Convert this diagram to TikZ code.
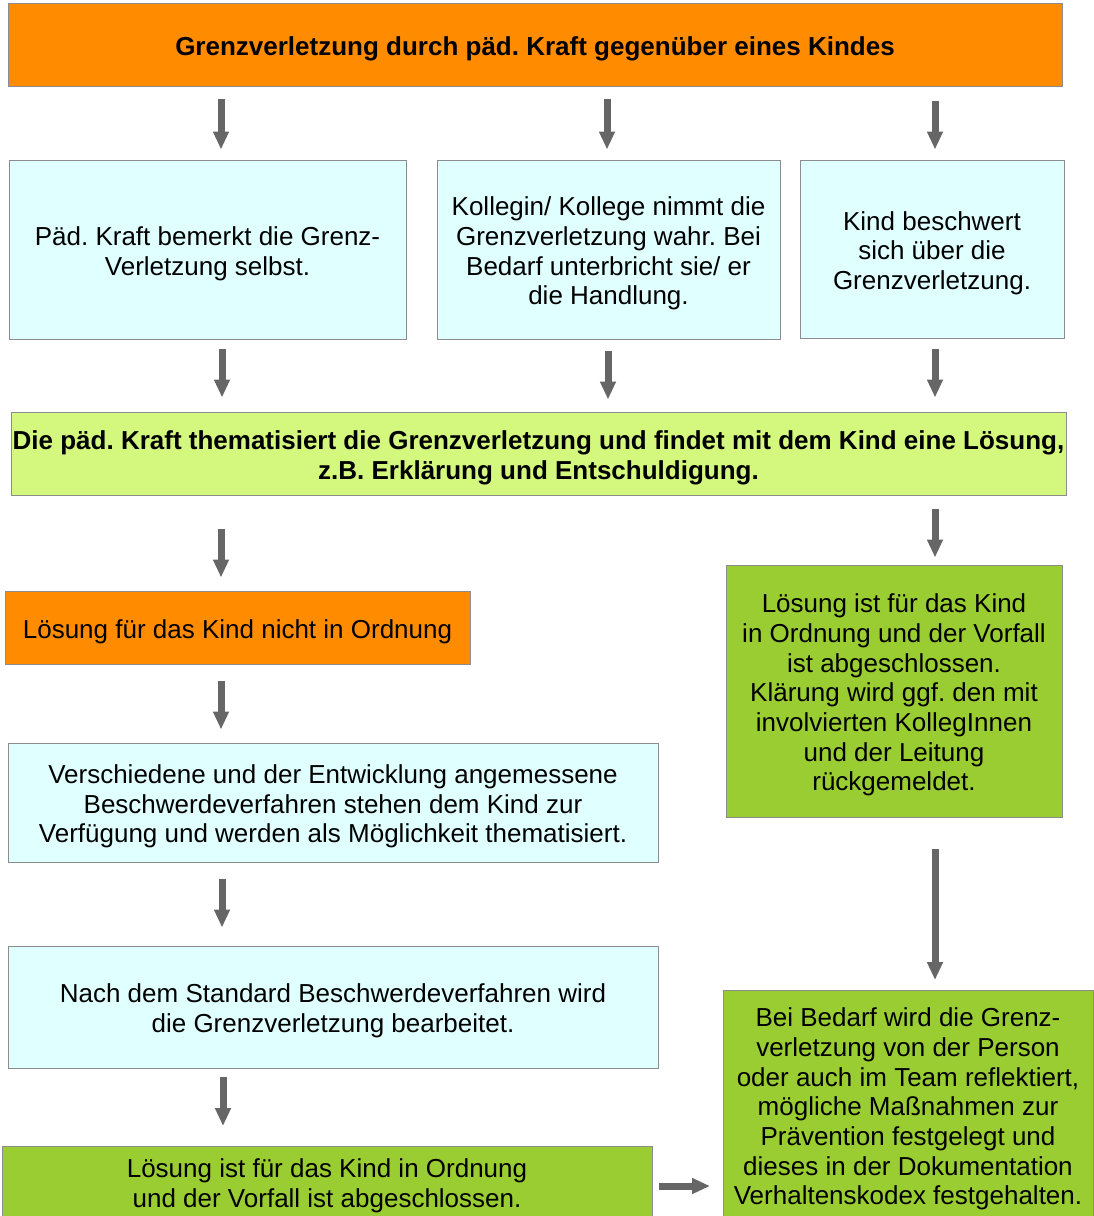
\documentclass[tikz,border=0pt]{standalone}
\usepackage{fontspec}
\setmainfont{Liberation Sans}
\usetikzlibrary{arrows.meta}
\frenchspacing
\definecolor{kitaorange}{RGB}{255, 140, 0}
\definecolor{kitacyan}{RGB}{224, 255, 255}
\definecolor{kitalime}{RGB}{212, 248, 126}
\definecolor{kitagreen}{RGB}{154, 205, 50}
\definecolor{kitaline}{RGB}{140, 140, 140}
\definecolor{kitaarrow}{RGB}{102, 102, 102}
\tikzset{
  stepbox/.style={draw=kitaline, line width=1pt, rectangle, inner sep=0pt},
  steptext/.style={align=center, inner sep=0pt, text=black, font=\fontsize{26}{29.7}\selectfont},
  boxtext/.style={steptext, yshift=-4pt},
  flow/.style={-{Triangle[length=18pt,width=15pt]}, line width=7pt, draw=kitaarrow},
}

\begin{document}
\begin{tikzpicture}[x=1pt, y=-1pt]
  \useasboundingbox (0,0) rectangle (1093,1216);
  % top row
  \node[stepbox, fill=kitaorange, minimum width=1054pt, minimum height=83pt,
    label={[boxtext, font=\fontsize{26}{29.7}\selectfont\bfseries]center:Grenzverletzung durch päd. Kraft gegenüber eines Kindes}] (start) at (535,44.5) {};
  \node[stepbox, fill=kitacyan, minimum width=397pt, minimum height=179pt,
    label={[boxtext]center:Päd. Kraft bemerkt die Grenz-\\Verletzung selbst.}] (self) at (207.5,249.5) {};
  \node[stepbox, fill=kitacyan, minimum width=343pt, minimum height=179pt,
    label={[boxtext]center:Kollegin/ Kollege nimmt die\\Grenzverletzung wahr. Bei\\Bedarf unterbricht sie/ er\\die Handlung.}] (colleague) at (608.5,249.5) {};
  \node[stepbox, fill=kitacyan, minimum width=264pt, minimum height=178pt,
    label={[boxtext]center:Kind beschwert\\sich über die\\Grenzverletzung.}] (child) at (932,249) {};
  \node[stepbox, fill=kitalime, minimum width=1055pt, minimum height=83pt,
    label={[boxtext, font=\fontsize{26}{29.7}\selectfont\bfseries]center:Die päd. Kraft thematisiert die Grenzverletzung und findet mit dem Kind eine Lösung,\\z.B. Erklärung und Entschuldigung.}] (talk) at (538.5,453.5) {};
  % left branch
  \node[stepbox, fill=kitaorange, minimum width=465pt, minimum height=73pt,
    label={[boxtext]center:Lösung für das Kind nicht in Ordnung}] (notok) at (237.5,627.5) {};
  \node[stepbox, fill=kitacyan, minimum width=650pt, minimum height=119pt,
    label={[boxtext]center:Verschiedene und der Entwicklung angemessene\\Beschwerdeverfahren stehen dem Kind zur\\Verfügung und werden als Möglichkeit thematisiert.}] (options) at (333,802.5) {};
  \node[stepbox, fill=kitacyan, minimum width=650pt, minimum height=122pt,
    label={[boxtext]center:Nach dem Standard Beschwerdeverfahren wird\\die Grenzverletzung bearbeitet.}] (standard) at (333,1007) {};
  \node[stepbox, fill=kitagreen, minimum width=650pt, minimum height=76pt, anchor=north west] (solvedleft) at (2,1146) {};
  \node[steptext] (solvedlefttext) at (327,1186) {Lösung ist für das Kind in Ordnung\\und der Vorfall ist abgeschlossen.};
  % right branch
  \node[stepbox, fill=kitagreen, minimum width=336pt, minimum height=252pt,
    label={[boxtext]center:Lösung ist für das Kind\\in Ordnung und der Vorfall\\ist abgeschlossen.\\Klärung wird ggf. den mit\\involvierten KollegInnen\\und der Leitung\\rückgemeldet.}] (solved) at (894,691) {};
  \node[stepbox, fill=kitagreen, minimum width=370pt, minimum height=232pt, anchor=north west] (reflect) at (723,990) {};
  \node[steptext] (reflecttext) at (908,1109) {Bei Bedarf wird die Grenz-\\verletzung von der Person\\oder auch im Team reflektiert,\\mögliche Maßnahmen zur\\Prävention festgelegt und\\dieses in der Dokumentation\\Verhaltenskodex festgehalten.};
  % arrows
  \draw[flow, shorten <=12pt, shorten >=10pt] (start.south -| 221,0) -- (self.north -| 221,0);
  \draw[flow, shorten <=12pt, shorten >=10pt] (start.south -| 607,0) -- (colleague.north -| 607,0);
  \draw[flow, shorten <=14pt, shorten >=10pt] (start.south -| 935,0) -- (child.north -| 935,0);
  \draw[flow, shorten <=9pt, shorten >=14pt] (self.south -| 222,0) -- (talk.north -| 222,0);
  \draw[flow, shorten <=11pt, shorten >=12pt] (colleague.south -| 608,0) -- (talk.north -| 608,0);
  \draw[flow, shorten <=10pt, shorten >=14pt] (child.south -| 935,0) -- (talk.north -| 935,0);
  \draw[flow, shorten <=33pt, shorten >=13pt] (talk.south -| 221,0) -- (notok.north -| 221,0);
  \draw[flow, shorten <=13pt, shorten >=7pt] (talk.south -| 935,0) -- (solved.north -| 935,0);
  \draw[flow, shorten <=16pt, shorten >=13pt] (notok.south -| 221,0) -- (options.north -| 221,0);
  \draw[flow, shorten <=16pt, shorten >=18pt] (options.south -| 222,0) -- (standard.north -| 222,0);
  \draw[flow, shorten <=8pt, shorten >=20pt] (standard.south -| 223,0) -- (solvedleft.north -| 223,0);
  \draw[flow, shorten <=31pt, shorten >=10pt] (solved.south -| 935,0) -- (reflect.north -| 935,0);
  \draw[flow, shorten <=6pt, shorten >=13pt] (solvedleft.east |- 0,1186) -- (reflect.west |- 0,1186);
\end{tikzpicture}
\end{document}
